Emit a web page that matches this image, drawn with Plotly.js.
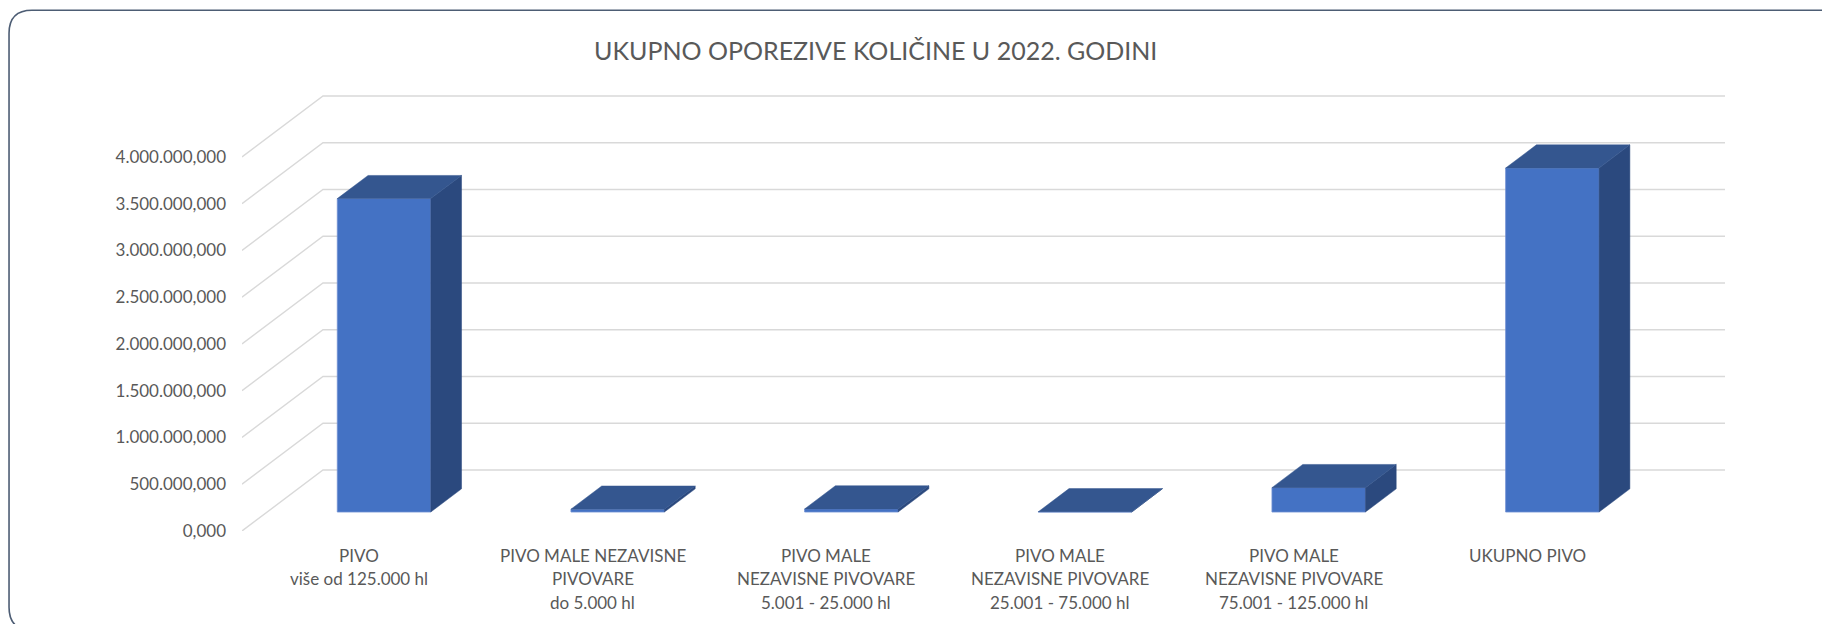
<!DOCTYPE html>
<html>
<head>
<meta charset="utf-8">
<script src="https://cdn.plot.ly/plotly-3.0.1.min.js"></script>
<style>
html,body{margin:0;padding:0;background:#fff;overflow:hidden}
#chart{width:1822px;height:624px}
</style>
</head>
<body>
<div id="chart"></div>
<script>
// ---------------- data ----------------
const chartTitle = 'UKUPNO OPOREZIVE KOLIČINE U 2022. GODINI';
const categories = [
  'PIVO<br>više od 125.000 hl',
  'PIVO MALE NEZAVISNE<br>PIVOVARE<br>do 5.000 hl',
  'PIVO MALE<br>NEZAVISNE PIVOVARE<br>5.001 - 25.000 hl',
  'PIVO MALE<br>NEZAVISNE PIVOVARE<br>25.001 - 75.000 hl',
  'PIVO MALE<br>NEZAVISNE PIVOVARE<br>75.001 - 125.000 hl',
  'UKUPNO PIVO'
];
const values = [3352000, 30500, 33000, 2700, 261000, 3679000];
const yTicks = [0, 500000, 1000000, 1500000, 2000000, 2500000, 3000000, 3500000, 4000000];

// ---------------- geometry / style ----------------
const W = 1822, H = 624;
const plotL = 242, plotB = 530.7;          // front-plane origin (px)
const catPx = 233.7;                        // px per category
const pxPerUnit = 46.75 / 500000;           // px per value unit
const depthX = 81, depthY = 61;             // full depth offset (px)
const D = depthX / catPx;                   // depth in category units
const DY = depthY / pxPerUnit;              // depth in value units
const yMax = yTicks[yTicks.length - 1];
const yTop = yMax + DY;
const yRangeTop = yTop + 3 / pxPerUnit;     // a little room for the top grid line
const xMin = -0.5, xBack = categories.length - 0.5 + D;
const xMax = xBack + 3 / catPx;
const plotW = (xMax - xMin) * catPx;
const plotH = yRangeTop * pxPerUnit;
const margin = {l: plotL, r: W - plotL - plotW, b: H - plotB, t: plotB - plotH, pad: 0};

const frontDepth = 0.311, barDepth = 0.38, barW = 0.4;
const cFront = '#4472C4', cTop = '#34568F', cSide = '#2B497E';
const gridColor = '#D9D9D9';
const textColor = '#595959';
const fontFam = 'Lato, "Open Sans", sans-serif';

// ---------------- grid (side wall + back wall), drawn below traces ----------------
const shapes = yTicks.map(t => ({
  type: 'path', xref: 'x', yref: 'y', layer: 'below',
  path: `M ${xMin},${t} L ${xMin + D},${t + DY} L ${xBack},${t + DY}`,
  line: {color: gridColor, width: 1.4}
}));

// ---------------- bars ----------------
const xs = categories.map((c, i) => i + frontDepth * D);
const base0 = frontDepth * DY;
const sx = [], sy = [], tx = [], ty = [];
values.forEach((v, i) => {
  const xl = xs[i] - barW / 2, xr = xs[i] + barW / 2;
  const top = base0 + v;
  const ddx = barDepth * D, ddy = barDepth * DY;
  sx.push(xr, xr + ddx, xr + ddx, xr, xr, null);
  sy.push(base0, base0 + ddy, top + ddy, top, base0, null);
  tx.push(xl, xr, xr + ddx, xl + ddx, xl, null);
  ty.push(top, top, top + ddy, top + ddy, top, null);
});
const sideTrace = {
  type: 'scatter', mode: 'lines', x: sx, y: sy, fill: 'toself', fillcolor: cSide,
  line: {color: cSide, width: 0.5}, hoverinfo: 'skip', showlegend: false
};
const topTrace = {
  type: 'scatter', mode: 'lines', x: tx, y: ty, fill: 'toself', fillcolor: cTop,
  line: {color: cTop, width: 0.5}, hoverinfo: 'skip', showlegend: false
};
const frontTrace = {
  type: 'bar', x: xs, y: values, base: values.map(() => base0), width: barW,
  marker: {color: cFront, line: {color: '#6F8FD3', width: 0.8}},
  hoverinfo: 'skip', showlegend: false
};

// ---------------- category labels ----------------
const firstLineOffset = 24.5, lineGap = 23.3;
const annotations = [];
categories.forEach((c, i) => {
  c.split('<br>').forEach((line, j) => {
    annotations.push({
      x: i, xref: 'x', y: 0, yref: 'paper', yanchor: 'middle', xanchor: 'center',
      yshift: -(firstLineOffset + j * lineGap), text: line, showarrow: false,
      font: {family: fontFam, size: 17, color: textColor}
    });
  });
});

// ---------------- border (rounded frame) ----------------
const px2x = p => (p - margin.l) / plotW;
const px2y = p => (plotB - p) / plotH;
const bx = 9, by = 10, rad = 23, bBottom = 630;
const borderPath =
  `M ${px2x(bx + rad)},${px2y(bBottom)} Q ${px2x(bx)},${px2y(bBottom)} ${px2x(bx)},${px2y(bBottom - rad)} ` +
  `L ${px2x(bx)},${px2y(by + rad)} ` +
  `Q ${px2x(bx)},${px2y(by)} ${px2x(bx + rad)},${px2y(by)} L ${px2x(1860)},${px2y(by)}`;
shapes.push({
  type: 'path', xref: 'paper', yref: 'paper', path: borderPath,
  line: {color: '#4D5D74', width: 1.6}, layer: 'above'
});

const layout = {
  width: W, height: H, margin: margin,
  paper_bgcolor: '#FFFFFF', plot_bgcolor: 'rgba(0,0,0,0)',
  separators: ',.',
  showlegend: false,
  title: {
    text: chartTitle, xref: 'container', yref: 'container',
    x: 875.7 / W, xanchor: 'center', y: 1 - 51.5 / H, yanchor: 'middle',
    font: {family: fontFam, size: 25, color: textColor}
  },
  xaxis: {range: [xMin, xMax], autorange: false, visible: false, fixedrange: true},
  yaxis: {
    range: [0, yRangeTop], autorange: false, tickvals: yTicks, tickformat: ',.3f',
    showgrid: false, zeroline: false, showline: false, ticks: '',
    ticklabelstandoff: 15,
    tickfont: {family: fontFam, size: 17, color: textColor}, fixedrange: true
  },
  annotations: annotations,
  shapes: shapes
};

Plotly.newPlot('chart', [frontTrace, sideTrace, topTrace], layout,
  {staticPlot: true, displayModeBar: false});
</script>
</body>
</html>
